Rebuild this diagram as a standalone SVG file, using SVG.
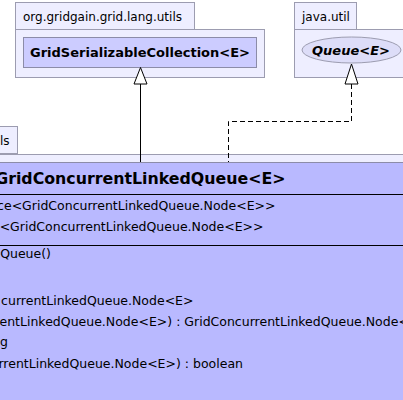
<svg xmlns="http://www.w3.org/2000/svg" width="403" height="400" viewBox="0 0 403 400">
<style>
.pkg{fill:#eeeeff;stroke:#9c9cb0;stroke-width:1}
.cls{fill:#ccccff;stroke:#8c8ca8;stroke-width:1}
.main{fill:#b9b9ff;stroke:#8c8ca8;stroke-width:1}
.sep{stroke:#000;stroke-width:1}
.t{font-family:"DejaVu Sans",sans-serif;font-size:12px;fill:#000}
.m{font-family:"DejaVu Sans",sans-serif;font-size:12.5px;fill:#000}
.b{font-family:"DejaVu Sans",sans-serif;font-weight:bold;fill:#000}
.edge{fill:none;stroke:#000;stroke-width:1}
.dash{stroke-dasharray:5,3}
.head{fill:#fff;stroke:#000;stroke-width:1}
</style>
<rect width="403" height="400" fill="#fff"/>
<g id="pkg-lang-utils">
<rect class="pkg" x="15.5" y="2.5" width="179" height="27"/>
<rect class="pkg" x="15.5" y="29.5" width="249" height="48"/>
<text class="t" x="23" y="21">org.gridgain.grid.lang.utils</text>
</g>
<g id="GridSerializableCollection">
<rect class="cls" x="23.5" y="37.5" width="233" height="30"/>
<text class="b" x="140" y="57" font-size="13" text-anchor="middle">GridSerializableCollection&lt;E&gt;</text>
</g>
<g id="pkg-java-util">
<rect class="pkg" x="294.5" y="2.5" width="62" height="27"/>
<rect class="pkg" x="294.5" y="29.5" width="120" height="48"/>
<text class="t" x="302" y="21">java.util</text>
</g>
<g id="Queue">
<ellipse cx="351.5" cy="50" rx="49.5" ry="13" fill="#ddddf8" stroke="#9c9cb0"/>
<text class="b" x="351" y="55" font-size="13" font-style="italic" text-anchor="middle">Queue&lt;E&gt;</text>
</g>
<g id="pkg-main">
<rect class="pkg" x="-20" y="126.5" width="37.5" height="27"/>
<rect class="pkg" x="-20" y="154.5" width="440" height="260"/>
<text class="t" x="0" y="145">ls</text>
</g>
<g id="GridConcurrentLinkedQueue">
<rect class="main" x="-20" y="162.5" width="440" height="260"/>
<text class="b" x="285.5" y="184" font-size="15.8" text-anchor="end">GridConcurrentLinkedQueue&lt;E&gt;</text>
<line class="sep" x1="-20" y1="194.5" x2="420" y2="194.5"/>
<text class="m" x="275.5" y="210" text-anchor="end">ce&lt;GridConcurrentLinkedQueue.Node&lt;E&gt;&gt;</text>
<text class="m" x="263.5" y="231" text-anchor="end">e&lt;GridConcurrentLinkedQueue.Node&lt;E&gt;&gt;</text>
<line class="sep" x1="-20" y1="245.5" x2="420" y2="245.5"/>
<text class="m" x="51" y="258" text-anchor="end">Queue()</text>
<text class="m" x="193.5" y="305" text-anchor="end">currentLinkedQueue.Node&lt;E&gt;</text>
<text class="m" x="-0.5" y="326">entLinkedQueue.Node&lt;E&gt;) : GridConcurrentLinkedQueue.Node&lt;E&gt;</text>
<text class="m" x="0" y="346">g</text>
<text class="m" x="243" y="368" text-anchor="end">rrentLinkedQueue.Node&lt;E&gt;) : boolean</text>
</g>
<g id="connectors">
<path class="edge" d="M140.5,84 V162"/>
<polygon class="head" points="140.5,67.5 134,84 147,84"/>
<path class="edge dash" d="M351.5,84 V121.5 H228.5 V162"/>
<polygon class="head" points="351.5,64 345,84 358,84"/>
</g>
</svg>
